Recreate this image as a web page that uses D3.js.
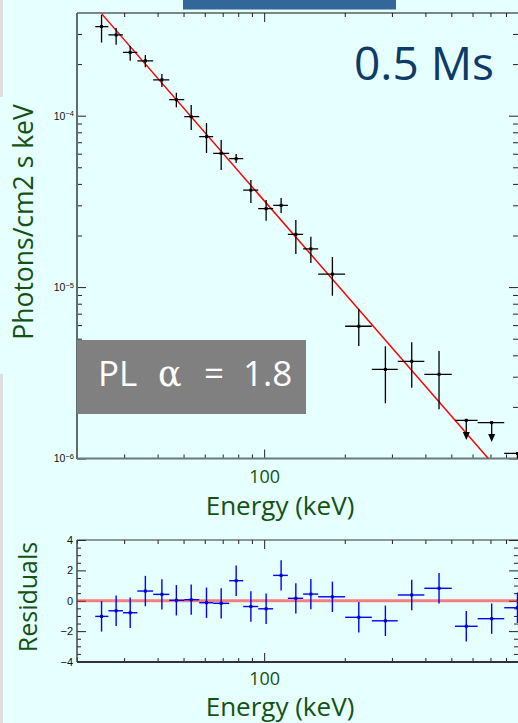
<!DOCTYPE html>
<html>
<head>
<meta charset="utf-8">
<script src="https://cdn.jsdelivr.net/npm/d3@7/dist/d3.min.js"></script>
<style>
  html, body { margin: 0; padding: 0; background: #e6ffff; overflow: hidden; }
  svg { display: block; }
</style>
</head>
<body>
<div id="chart"></div>
<script>
// Spectrum bins (keV) and measured flux (photons/cm2 s keV)
const energy   = [24.7, 28.0, 31.6, 36.0, 41.5, 47.0, 53.4, 60.9, 69.1, 78.6, 89.2, 101.7,
                  115.7, 131.3, 149.4, 179.8, 225.6, 283.6, 355.7, 449.8, 568.6, 707.3, 883];
const energyLo = [23.4, 26.2, 29.7, 33.6, 38.5, 44.2, 50.3, 57.2, 64.5, 74.0, 83.5, 95.0,
                  108, 122.6, 139.8, 159.1, 200.6, 252.3, 315.4, 396.4, 516, 627, 788];
const energyHi = [26.2, 29.7, 33.6, 38.5, 44.2, 50.3, 57.2, 64.5, 74.0, 83.5, 95.0, 108,
                  122.6, 139.8, 159.1, 200.6, 252.3, 315.4, 396.4, 501.8, 627, 788, 990];
const flux     = [3.31e-4, 2.96e-4, 2.34e-4, 2.09e-4, 1.62e-4, 1.24e-4, 9.87e-5, 7.54e-5,
                  6.03e-5, 5.61e-5, 3.68e-5, 2.87e-5, 3.00e-5, 2.03e-5, 1.67e-5, 1.19e-5,
                  5.91e-6, 3.31e-6, 3.69e-6, 3.10e-6, 1.67e-6, 1.62e-6, 1.07e-6];
const fluxLo   = [2.67e-4, 2.59e-4, 2.09e-4, 1.92e-4, 1.47e-4, 1.12e-4, 8.25e-5, 6.06e-5,
                  4.82e-5, 5.30e-5, 3.09e-5, 2.44e-5, 2.71e-5, 1.56e-5, 1.38e-5, 8.91e-6,
                  4.53e-6, 2.10e-6, 2.59e-6, 1.94e-6, 1.28e-6, 1.25e-6, 8.0e-7];
const fluxHi   = [3.87e-4, 3.25e-4, 2.55e-4, 2.26e-4, 1.75e-4, 1.36e-4, 1.155e-4, 9.07e-5,
                  7.21e-5, 5.98e-5, 4.21e-5, 3.22e-5, 3.31e-5, 2.46e-5, 1.97e-5, 1.50e-5,
                  7.45e-6, 4.51e-6, 4.76e-6, 4.24e-6, 1.67e-6, 1.62e-6, 1.07e-6];
// last three bins are upper limits (fluxLo = arrow tip)
const upperLimit = [false, false, false, false, false, false, false, false, false, false, false, false,
                    false, false, false, false, false, false, false, false, true, true, true];

// Residuals (sigma), one per bin
const residual = [-1.03, -0.66, -0.79, 0.64, 0.42, 0.03, 0.07, -0.13, -0.17, 1.32, -0.38, -0.53,
                  1.67, 0.16, 0.44, 0.26, -1.09, -1.32, 0.38, 0.82, -1.68, -1.18, -0.46];

// Power-law model line, end points
const modelE = [24.7, 687];
const modelF = [3.94e-4, 1.0e-6];

// Ticks
const xMajorTicks = [100];
const xMinorTicks = [20, 30, 40, 50, 60, 70, 80, 90, 200, 300, 400, 500, 600, 700, 800];
const yMajorTicks = [1e-6, 1e-5, 1e-4];
const yMajorLabels = ['\u22126', '\u22125', '\u22124'];
const yMinorTicks = [2e-6, 3e-6, 4e-6, 5e-6, 6e-6, 7e-6, 8e-6, 9e-6,
                     2e-5, 3e-5, 4e-5, 5e-5, 6e-5, 7e-5, 8e-5, 9e-5, 2e-4, 3e-4];
const resMajorTicks = [-4, -2, 0, 2, 4];
const resMinorTicks = [-3.5, -3, -2.5, -1.5, -1, -0.5, 0.5, 1, 1.5, 2.5, 3, 3.5];

const W = 518, H = 723;
const green = '#135213';
const tickFont = "'Liberation Sans', Arial, sans-serif";
const textFont = "'Open Sans', 'DejaVu Sans', sans-serif";

const svg = d3.select('#chart')
    .append('svg')
    .attr('width', W)
    .attr('height', H);

// Slide background pieces
svg.append('rect').attr('width', W).attr('height', H).attr('fill', '#e6ffff');
svg.append('rect').attr('x', 0).attr('y', 0).attr('width', 3).attr('height', 97).attr('fill', '#dedede');
svg.append('rect').attr('x', 0).attr('y', 374).attr('width', 3).attr('height', H - 374).attr('fill', '#dedede');
svg.append('rect').attr('x', 183).attr('y', 0).attr('width', 213).attr('height', 9.5).attr('fill', '#336699');

// Scales
const left = 77, right = 518;
const x = d3.scaleLog().domain([20, 887]).range([left, right]);
const y = d3.scaleLog().domain([1e-6, 4e-4]).range([458.5, 12.5]);
const yRes = d3.scaleLinear().domain([-4, 4]).range([661.5, 540]);

svg.append('defs').append('clipPath').attr('id', 'clipMain')
    .append('rect').attr('x', left).attr('y', 13).attr('width', right - left).attr('height', 445.5);
svg.select('defs').append('clipPath').attr('id', 'clipRes')
    .append('rect').attr('x', left).attr('y', 540).attr('width', right - left).attr('height', 122);

function styleTicks(g, color) {
    g.select('.domain').remove();
    g.selectAll('.tick line').attr('stroke', color || '#222').attr('stroke-width', 1);
}

// ---------- main panel axes ----------
function xAxes(top, bottom, labelPad) {
    svg.append('g').attr('transform', `translate(0,${top})`)
        .call(d3.axisTop(x).tickValues(xMinorTicks).tickSize(-4).tickFormat(''))
        .call(styleTicks);
    svg.append('g').attr('transform', `translate(0,${top})`)
        .call(d3.axisTop(x).tickValues(xMajorTicks).tickSize(-9).tickFormat(''))
        .call(styleTicks);
    svg.append('g').attr('transform', `translate(0,${bottom})`)
        .call(d3.axisBottom(x).tickValues(xMinorTicks).tickSize(-4).tickFormat(''))
        .call(styleTicks);
    const gb = svg.append('g').attr('transform', `translate(0,${bottom})`)
        .call(d3.axisBottom(x).tickValues(xMajorTicks).tickSize(-9).tickPadding(labelPad).tickFormat(d3.format('d')))
        .call(styleTicks);
    gb.selectAll('.tick text')
        .style('font-family', textFont)
        .style('font-size', '18px')
        .attr('fill', green);
}

xAxes(13, 458.5, 12);

// Y axis left + right (main)
svg.append('g').attr('transform', `translate(${left},0)`)
    .call(d3.axisLeft(y).tickValues(yMinorTicks).tickSize(-5).tickFormat(''))
    .call(styleTicks);
const yLab = svg.append('g').attr('transform', `translate(${left},0)`)
    .call(d3.axisLeft(y).tickValues(yMajorTicks).tickSize(-9).tickPadding(3).tickFormat(''))
    .call(styleTicks);
yLab.selectAll('.tick text')
    .style('font-family', tickFont)
    .style('font-size', '10.5px')
    .attr('fill', '#111')
    .attr('dy', '0.32em')
    .each(function(d, i) {
        const t = d3.select(this);
        t.append('tspan').text('10');
        t.append('tspan').attr('dy', '-0.45em').style('font-size', '7.5px').text(yMajorLabels[i]);
    });
svg.append('g').attr('transform', `translate(${right},0)`)
    .call(d3.axisRight(y).tickValues(yMinorTicks).tickSize(-5).tickFormat(''))
    .call(styleTicks);
svg.append('g').attr('transform', `translate(${right},0)`)
    .call(d3.axisRight(y).tickValues(yMajorTicks).tickSize(-9).tickFormat(''))
    .call(styleTicks);

// Frame
svg.append('line').attr('x1', left).attr('x2', right).attr('y1', 13).attr('y2', 13)
    .attr('stroke', '#111').attr('stroke-width', 1.2);
svg.append('line').attr('x1', left).attr('x2', left).attr('y1', 13).attr('y2', 459)
    .attr('stroke', '#5f6d6d').attr('stroke-width', 2);
svg.append('line').attr('x1', left).attr('x2', right).attr('y1', 458.5).attr('y2', 458.5)
    .attr('stroke', '#6b7a7a').attr('stroke-width', 2);

// ---------- main panel data ----------
const main = svg.append('g').attr('clip-path', 'url(#clipMain)');
const bins = energy.map((e, i) => ({
    e, lo: energyLo[i], hi: energyHi[i],
    f: flux[i], fLo: fluxLo[i], fHi: fluxHi[i],
    ul: upperLimit[i], r: residual[i]
}));

// Model line
main.append('path')
    .datum(modelE.map((e, i) => [e, modelF[i]]))
    .attr('d', d3.line().x(d => x(d[0])).y(d => y(d[1])))
    .attr('fill', 'none')
    .attr('stroke', '#ff0000')
    .attr('stroke-width', 1.5);

// Horizontal bars
main.selectAll('.xerr')
    .data(bins)
    .enter()
    .append('line')
    .attr('x1', d => x(d.lo))
    .attr('x2', d => x(d.hi))
    .attr('y1', d => y(d.f))
    .attr('y2', d => y(d.f))
    .attr('stroke', '#000')
    .attr('stroke-width', 1.3);

// Vertical bars (or limit shafts)
main.selectAll('.yerr')
    .data(bins)
    .enter()
    .append('line')
    .attr('x1', d => x(d.e))
    .attr('x2', d => x(d.e))
    .attr('y1', d => y(d.fHi))
    .attr('y2', d => d.ul ? y(d.fLo) - 4 : y(d.fLo))
    .attr('stroke', '#000')
    .attr('stroke-width', 1.3);

// Arrow heads on upper limits
main.selectAll('.arrow')
    .data(bins.filter(d => d.ul))
    .enter()
    .append('path')
    .attr('d', 'M-3.5,-8L3.5,-8L0,0Z')
    .attr('transform', d => `translate(${x(d.e)},${y(d.fLo)})`)
    .attr('fill', '#000');

// Centre dots
main.selectAll('.dot')
    .data(bins)
    .enter()
    .append('rect')
    .attr('x', d => x(d.e) - 1.5)
    .attr('y', d => y(d.f) - 1.5)
    .attr('width', 3)
    .attr('height', 3)
    .attr('fill', '#000');

// ---------- residual panel ----------
xAxes(540, 662, 10);

svg.append('g').attr('transform', `translate(${left},0)`)
    .call(d3.axisLeft(yRes).tickValues(resMinorTicks).tickSize(-4).tickFormat(''))
    .call(styleTicks);
const rLab = svg.append('g').attr('transform', `translate(${left},0)`)
    .call(d3.axisLeft(yRes).tickValues(resMajorTicks).tickSize(-9).tickPadding(4)
        .tickFormat(d => d < 0 ? '\u2212' + Math.abs(d) : d))
    .call(styleTicks);
rLab.selectAll('.tick text')
    .style('font-family', tickFont)
    .style('font-size', '11px')
    .attr('fill', '#111');
svg.append('g').attr('transform', `translate(${right},0)`)
    .call(d3.axisRight(yRes).tickValues(resMinorTicks).tickSize(-4).tickFormat(''))
    .call(styleTicks);
svg.append('g').attr('transform', `translate(${right},0)`)
    .call(d3.axisRight(yRes).tickValues(resMajorTicks).tickSize(-9).tickFormat(''))
    .call(styleTicks);

svg.append('line').attr('x1', left).attr('x2', right).attr('y1', 540).attr('y2', 540)
    .attr('stroke', '#333').attr('stroke-width', 1.2);
svg.append('line').attr('x1', left).attr('x2', left).attr('y1', 540).attr('y2', 662)
    .attr('stroke', '#444').attr('stroke-width', 1.5);
svg.append('line').attr('x1', left).attr('x2', right).attr('y1', 662).attr('y2', 662)
    .attr('stroke', '#333').attr('stroke-width', 2);

const res = svg.append('g').attr('clip-path', 'url(#clipRes)');

// Zero line
res.append('line')
    .attr('x1', left).attr('x2', right)
    .attr('y1', yRes(0)).attr('y2', yRes(0))
    .attr('stroke', '#ff0000')
    .attr('stroke-opacity', 0.5)
    .attr('stroke-width', 3);

res.selectAll('.rxerr')
    .data(bins)
    .enter()
    .append('line')
    .attr('x1', d => x(d.lo))
    .attr('x2', d => x(d.hi))
    .attr('y1', d => yRes(d.r))
    .attr('y2', d => yRes(d.r))
    .attr('stroke', '#0000ff')
    .attr('stroke-width', 1.4);

res.selectAll('.ryerr')
    .data(bins)
    .enter()
    .append('line')
    .attr('x1', d => x(d.e))
    .attr('x2', d => x(d.e))
    .attr('y1', d => yRes(d.r + 1))
    .attr('y2', d => yRes(d.r - 1))
    .attr('stroke', '#0000ff')
    .attr('stroke-width', 1.4);

res.selectAll('.rdot')
    .data(bins)
    .enter()
    .append('rect')
    .attr('x', d => x(d.e) - 1.5)
    .attr('y', d => yRes(d.r) - 1.5)
    .attr('width', 3)
    .attr('height', 3)
    .attr('fill', '#0000c0');

// ---------- titles / annotations ----------
svg.append('text')
    .attr('transform', 'translate(33,222) rotate(-90)')
    .attr('text-anchor', 'middle')
    .style('font-family', textFont)
    .style('font-size', '26.5px')
    .attr('fill', green)
    .text('Photons/cm2 s keV');

svg.append('text')
    .attr('x', 280)
    .attr('y', 515)
    .attr('text-anchor', 'middle')
    .style('font-family', textFont)
    .style('font-size', '26px')
    .attr('fill', green)
    .text('Energy (keV)');

svg.append('text')
    .attr('transform', 'translate(37,597) rotate(-90)')
    .attr('text-anchor', 'middle')
    .style('font-family', textFont)
    .style('font-size', '25px')
    .attr('fill', green)
    .text('Residuals');

svg.append('text')
    .attr('x', 280)
    .attr('y', 716)
    .attr('text-anchor', 'middle')
    .style('font-family', textFont)
    .style('font-size', '26px')
    .attr('fill', green)
    .text('Energy (keV)');

svg.append('text')
    .attr('x', 494)
    .attr('y', 80)
    .attr('text-anchor', 'end')
    .style('font-family', textFont)
    .style('font-size', '46px')
    .attr('fill', '#0d3a66')
    .text('0.5 Ms');

// PL box
svg.append('rect')
    .attr('x', 77).attr('y', 340)
    .attr('width', 229).attr('height', 74)
    .attr('fill', '#808080');
const pl = svg.append('text')
    .attr('y', 386)
    .style('font-family', textFont)
    .style('font-size', '35px')
    .attr('fill', '#ffffff');
pl.append('tspan').attr('x', 98).text('PL');
pl.append('tspan').attr('x', 158).style('font-family', "'DejaVu Serif', 'Liberation Serif', serif").text('\u03b1');
pl.append('tspan').attr('x', 204).text('=');
pl.append('tspan').attr('x', 243).text('1.8');
</script>
</body>
</html>
